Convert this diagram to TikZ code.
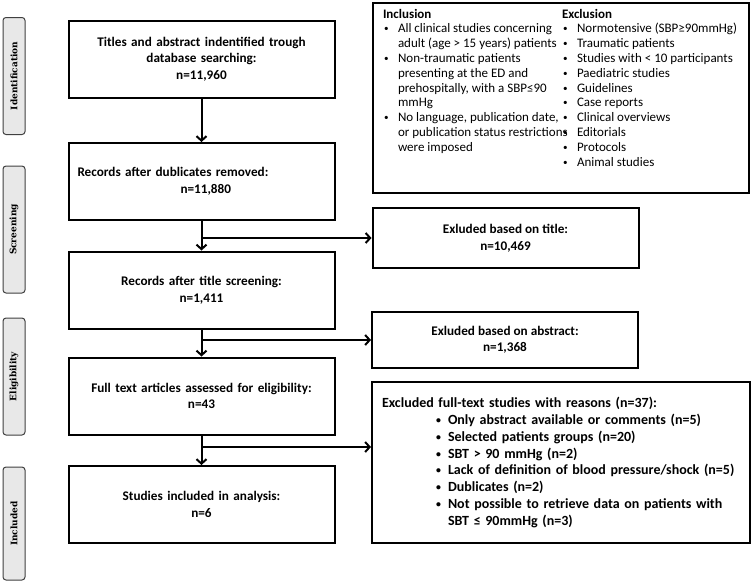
\documentclass[tikz,border=0pt]{standalone}
\usepackage{fontspec}
\setmainfont{Carlito}
\newfontfamily\sidefont{DejaVu Serif}
\usetikzlibrary{arrows.meta}

\newcommand\dotmark{\raisebox{0.15ex}{\scalebox{0.7}{•}}}
\newcommand\critbul{\hspace*{1pt}\makebox[14pt][l]{\dotmark}}
\newcommand\critcol[1]{\makebox[179pt][l]{#1}}
\newcommand\fullbul{\hspace*{54pt}\makebox[12pt][l]{\dotmark}}

\begin{document}
\begin{tikzpicture}[x=1pt,y=-1pt,
    flowbox/.style={draw,line width=2pt,minimum width=266pt,minimum height=77pt,
      text width=248pt,inner xsep=9pt,align=center,
      font=\fontsize{13.2}{16.5}\selectfont\bfseries},
    exbox/.style={draw,line width=2pt,minimum width=266pt,minimum height=56pt,
      align=center,font=\fontsize{13.2}{16.5}\selectfont\bfseries},
    phase/.style={draw=black!75,fill=black!9,rounded corners=3pt,line width=1pt,
      minimum width=117pt,minimum height=22pt,rotate=90,
      font=\sidefont\fontsize{9}{10}\selectfont\bfseries},
    flowarrow/.style={line width=2pt,-{Straight Barb[length=4.5pt,width=10pt]}}]

    \useasboundingbox (0,0) rectangle (751,581);

    % phases on the left
    \node[phase] (phIdent) at (14,76) {Identification};
    \node[phase,minimum width=127pt] (phScreen) at (14,229.5) {Screening};
    \node[phase] (phElig) at (14,376.5) {Eligibility};
    \node[phase,minimum width=113pt] (phIncl) at (14,523.5) {Included};

    % main flow
    \node[flowbox] (ident) at (201.5,59) {Titles and abstract indentified trough\\ database searching:\\ n=11,960};
    \node[flowbox,align=left] (dupl) at (201.5,181.5) {Records after dublicates removed:\\ \hspace*{103pt}n=11,880};
    \node[flowbox] (titleScr) at (201.5,290) {Records after title screening:\\ n=1,411};
    \node[flowbox] (fullText) at (201.5,396) {Full text articles assessed for eligibility:\\ n=43};
    \node[flowbox] (incl) at (201.5,504.5) {Studies included in analysis:\\ n=6};

    % criteria
    \node[draw,line width=2pt,inner xsep=10pt,inner ysep=6pt,anchor=north west,
      font=\fontsize{13}{14.8}\selectfont] (crit) at (372,2) {\parbox[c][178pt][t]{356pt}{%
      \critcol{\textbf{Inclusion}}\textbf{Exclusion}\\
      \critcol{\critbul All clinical studies concerning}\critbul Normotensive (SBP≥90mmHg)\\
      \critcol{\hspace*{15pt}adult (age > 15 years) patients}\critbul Traumatic patients\\
      \critcol{\critbul Non-traumatic patients}\critbul Studies with < 10 participants\\
      \critcol{\hspace*{15pt}presenting at the ED and}\critbul Paediatric studies\\
      \critcol{\hspace*{15pt}prehospitally, with a SBP≤90}\critbul Guidelines\\
      \critcol{\hspace*{15pt}mmHg}\critbul Case reports\\
      \critcol{\critbul No language, publication date,}\critbul Clinical overviews\\
      \critcol{\hspace*{15pt}or publication status restrictions}\critbul Editorials\\
      \critcol{\hspace*{15pt}were imposed}\critbul Protocols\\
      \critcol{}\critbul Animal studies}};

    % excluded
    \node[exbox,minimum height=60pt] (exTitle) at (505.5,238) {Exluded based on title:\\ n=10,469};
    \node[exbox] (exAbs) at (505,340) {Exluded based on abstract:\\ n=1,368};
    \node[draw,line width=2pt,minimum width=378pt,minimum height=161pt,text width=358pt,
      inner xsep=10pt,align=left,font=\fontsize{14}{16.8}\selectfont\bfseries] (exFull) at (561,462.5)
      {Excluded full-text studies with reasons (n=37):\\
      \fullbul Only abstract available or comments (n=5)\\
      \fullbul Selected patients groups (n=20)\\
      \fullbul SBT > 90 mmHg (n=2)\\
      \fullbul Lack of definition of blood pressure/shock (n=5)\\
      \fullbul Dublicates (n=2)\\
      \fullbul Not possible to retrieve data on patients with\\
      \hspace*{66pt}SBT ≤ 90mmHg (n=3)};

    % arrows
    \draw[flowarrow] (ident) -- (dupl);
    \draw[flowarrow] (dupl) -- (titleScr);
    \draw[flowarrow] (titleScr) -- (fullText);
    \draw[flowarrow] (fullText) -- (incl);
    \draw[flowarrow] (dupl.south |- exTitle.west) -- (exTitle);
    \draw[flowarrow] (titleScr.south |- exAbs.west) -- (exAbs);
    \coordinate (splitFull) at (201.5,447);
    \draw[flowarrow] (splitFull) -- (splitFull -| exFull.west);
\end{tikzpicture}
\end{document}
